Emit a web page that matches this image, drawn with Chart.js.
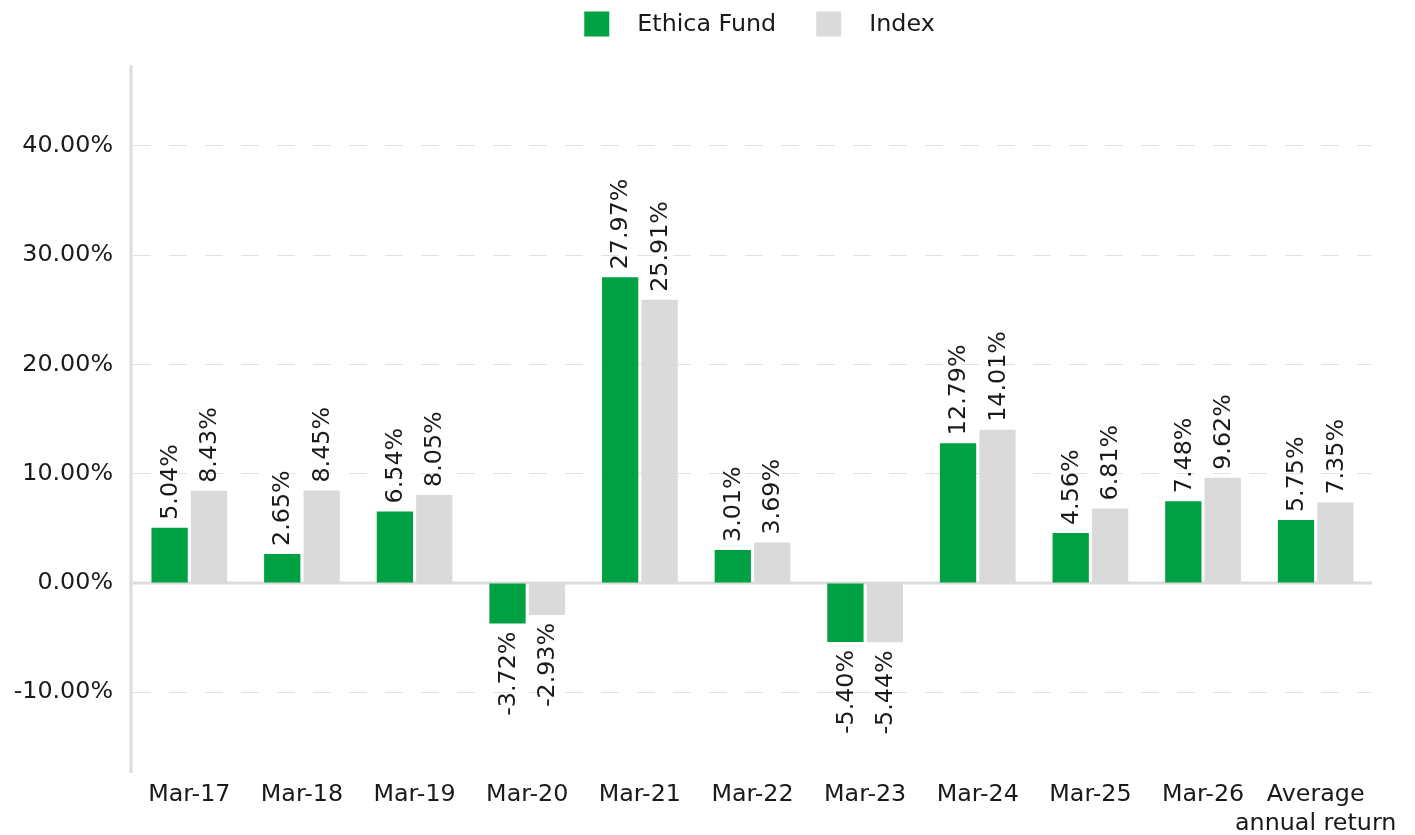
<!DOCTYPE html>
<html>
<head>
<meta charset="utf-8">
<script src="https://cdn.jsdelivr.net/npm/chart.js@4/dist/chart.umd.min.js"></script>
<style>
  html, body { margin: 0; padding: 0; background: #ffffff; }
  #wrap { width: 1415px; height: 835px; }
</style>
</head>
<body>
<div id="wrap"><canvas id="c" width="1415" height="835"></canvas></div>
<script>
const categories = ['Mar-17', 'Mar-18', 'Mar-19', 'Mar-20', 'Mar-21', 'Mar-22', 'Mar-23', 'Mar-24', 'Mar-25', 'Mar-26', ['Average', 'annual return']];
const seriesNames = ['Ethica Fund', 'Index'];
const fundValues = [5.04, 2.65, 6.54, -3.72, 27.97, 3.01, -5.40, 12.79, 4.56, 7.48, 5.75];
const indexValues = [8.43, 8.45, 8.05, -2.93, 25.91, 3.69, -5.44, 14.01, 6.81, 9.62, 7.35];
const yTickValues = [-10, 0, 10, 20, 30, 40];
const yTickLabels = ['-10.00%', '0.00%', '10.00%', '20.00%', '30.00%', '40.00%'];

const GREEN = '#00a142';
const GREY = '#dadada';
const TEXT = '#1a1a1a';
const FONT_FAMILY = '"DejaVu Sans", Verdana, sans-serif';
const FONT_SIZE = 23.8;

const axisLinePlugin = {
  id: 'axisLines',
  beforeDatasetsDraw(chart) {
    const { ctx, chartArea, scales } = chart;
    const y0 = scales.y.getPixelForValue(0);
    ctx.save();
    ctx.strokeStyle = '#dcdcdc';
    ctx.lineWidth = 3;
    ctx.beginPath();
    ctx.moveTo(chartArea.left, y0);
    ctx.lineTo(chartArea.right, y0);
    ctx.stroke();
    ctx.beginPath();
    ctx.moveTo(chartArea.left - 2, chartArea.top);
    ctx.lineTo(chartArea.left - 2, chartArea.bottom);
    ctx.stroke();
    ctx.restore();
  }
};

const valueLabelPlugin = {
  id: 'valueLabels',
  afterDatasetsDraw(chart) {
    const { ctx } = chart;
    ctx.save();
    ctx.font = FONT_SIZE + 'px ' + FONT_FAMILY;
    ctx.fillStyle = TEXT;
    ctx.textBaseline = 'middle';
    chart.data.datasets.forEach((ds, di) => {
      const meta = chart.getDatasetMeta(di);
      meta.data.forEach((bar, i) => {
        const v = ds.data[i];
        const pos = v >= 0;
        ctx.save();
        ctx.translate(bar.x + 1, pos ? bar.y - 8 : bar.y + 8);
        ctx.rotate(-Math.PI / 2);
        ctx.textAlign = pos ? 'left' : 'right';
        ctx.fillText(v.toFixed(2) + '%', 0, 0);
        ctx.restore();
      });
    });
    ctx.restore();
  }
};

const topLegendPlugin = {
  id: 'topLegend',
  afterDraw(chart) {
    const { ctx } = chart;
    const box = 25, gapText = 28, gapItem = 40;
    ctx.save();
    ctx.font = FONT_SIZE + 'px ' + FONT_FAMILY;
    ctx.textBaseline = 'middle';
    ctx.textAlign = 'left';
    const items = chart.data.datasets.map(ds => ({ text: ds.label, color: ds.backgroundColor }));
    const widths = items.map(it => box + gapText + ctx.measureText(it.text).width);
    const total = widths.reduce((a, b) => a + b, 0) + gapItem * (items.length - 1);
    let x = chart.width / 2 + 52 - total / 2;
    const cy = 24;
    items.forEach((it, i) => {
      ctx.fillStyle = it.color;
      ctx.fillRect(x, cy - box / 2, box, box);
      ctx.fillStyle = TEXT;
      ctx.fillText(it.text, x + box + gapText, cy + 1);
      x += widths[i] + gapItem;
    });
    ctx.restore();
  }
};

new Chart(document.getElementById('c'), {
  type: 'bar',
  data: {
    labels: categories,
    datasets: [
      { label: seriesNames[0], data: fundValues, backgroundColor: GREEN, categoryPercentage: 0.7, barPercentage: 0.92 },
      { label: seriesNames[1], data: indexValues, backgroundColor: GREY, categoryPercentage: 0.7, barPercentage: 0.92 }
    ]
  },
  options: {
    responsive: false,
    animation: false,
    devicePixelRatio: 1,
    layout: { padding: { top: 65, right: 43, left: 0, bottom: 0 } },
    plugins: {
      legend: { display: false },
      tooltip: { enabled: false }
    },
    scales: {
      x: {
        grid: { display: false, drawTicks: false },
        border: { display: false },
        ticks: {
          color: TEXT,
          font: { family: FONT_FAMILY, size: FONT_SIZE },
          padding: 8,
          maxRotation: 0,
          autoSkip: false
        },
        afterFit(scale) { scale.height = 62; }
      },
      y: {
        min: -17.4,
        max: 47.4,
        afterBuildTicks(axis) { axis.ticks = yTickValues.map(v => ({ value: v })); },
        grid: {
          drawTicks: false,
          lineWidth: 1,
          color: ctx => (ctx.tick && ctx.tick.value === 0) ? 'rgba(0,0,0,0)' : '#e2e2e2'
        },
        border: { display: false, dash: [18, 18] },
        ticks: {
          color: TEXT,
          font: { family: FONT_FAMILY, size: FONT_SIZE },
          padding: 20,
          callback: (value) => {
            const idx = yTickValues.indexOf(value);
            return idx >= 0 ? yTickLabels[idx] : '';
          }
        },
        afterFit(scale) { scale.width = 133; }
      }
    }
  },
  plugins: [axisLinePlugin, valueLabelPlugin, topLegendPlugin]
});
</script>
</body>
</html>
